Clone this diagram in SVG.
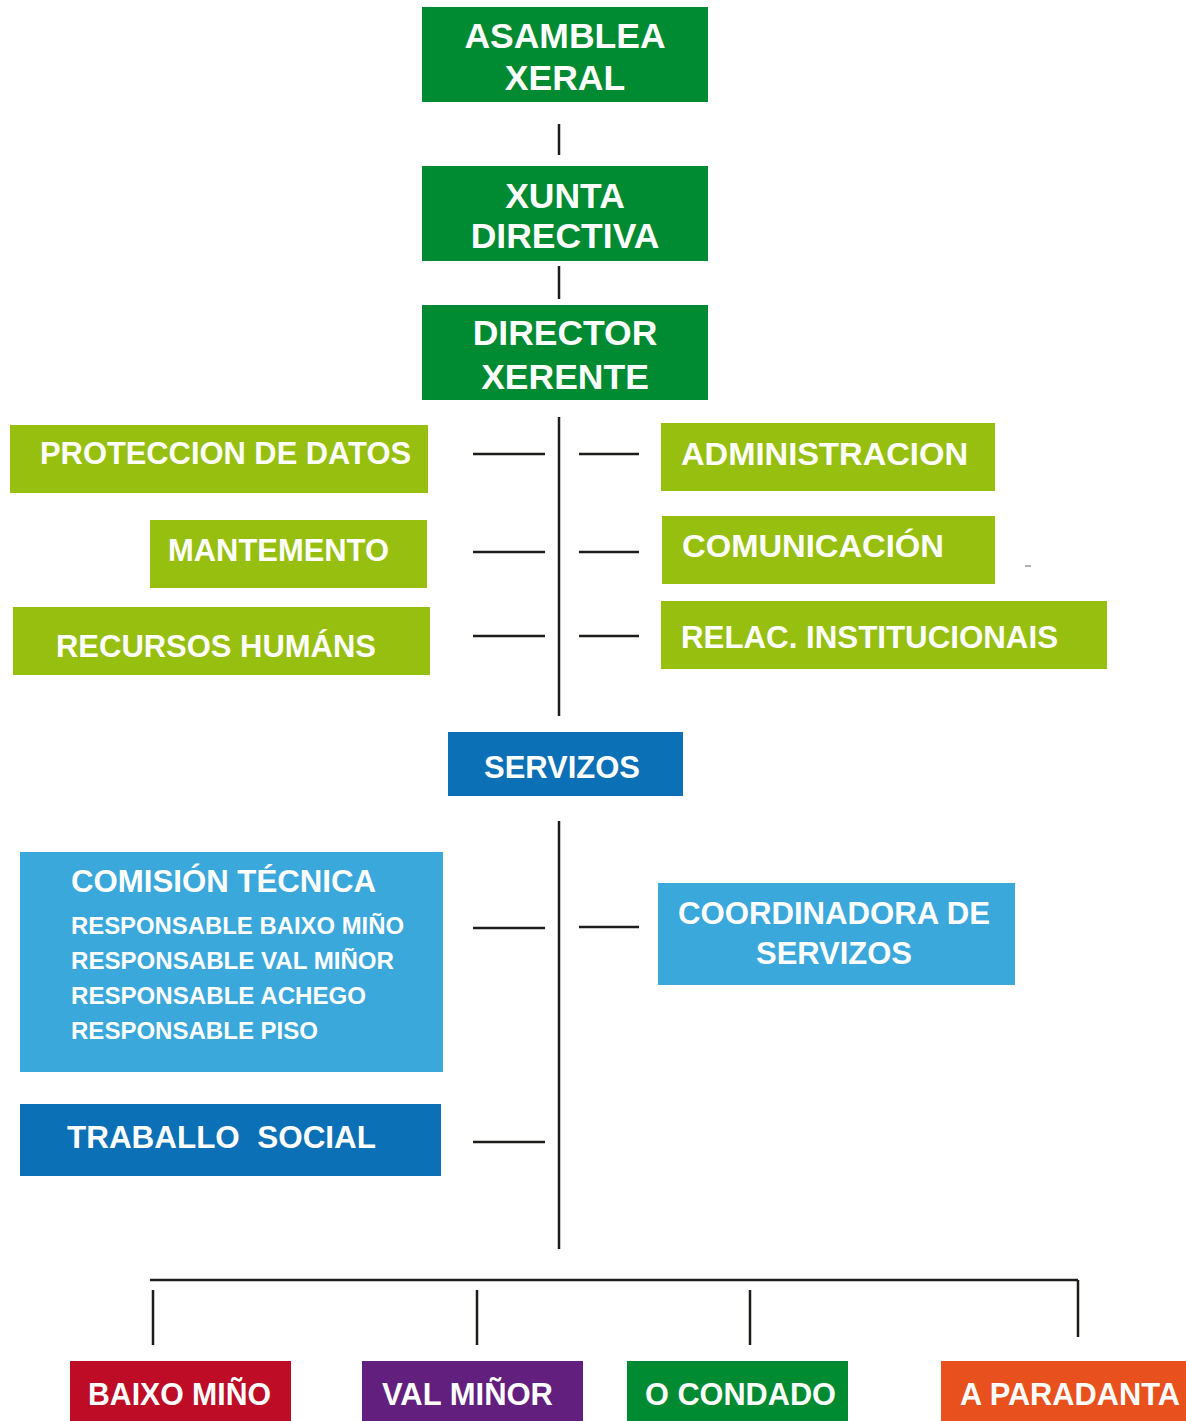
<svg xmlns="http://www.w3.org/2000/svg" width="1186" height="1421" viewBox="0 0 1186 1421">
<style>
text{font-family:"Liberation Sans",Arial,sans-serif;font-weight:bold;fill:#fff}
.t34{font-size:35.5px}
.t30{font-size:31px}
.t24{font-size:24px}
.dg{fill:#008A31}
.lg{fill:#97BF0F}
.db{fill:#0B70B5}
.lb{fill:#3BA8DB}
.ln{stroke:#1d1d1b;stroke-width:2.5;fill:none}
</style>
<rect width="1186" height="1421" fill="#fff"/>
<g id="connectors">
<path class="ln" d="M559 124V155M559 266V299M559 417V716M473 454H545M579 454H639M473 552H545M579 552H639M473 636H545M579 636H639M559 821V1249M473 928H545M579 927H639M473 1142H545M150 1280H1078M153 1290V1345M477 1290V1345M750 1290V1345M1078 1280V1337"/>
<path d="M1025 566H1031" stroke="#999" stroke-width="1.5"/>
</g>
<g id="asamblea"><rect class="dg" x="422" y="7" width="286" height="95"/><text class="t34" x="565" y="48" text-anchor="middle">ASAMBLEA</text><text class="t34" x="565" y="90" text-anchor="middle">XERAL</text></g>
<g id="xunta"><rect class="dg" x="422" y="166" width="286" height="95"/><text class="t34" x="565" y="208" text-anchor="middle">XUNTA</text><text class="t34" x="565" y="248" text-anchor="middle">DIRECTIVA</text></g>
<g id="director"><rect class="dg" x="422" y="305" width="286" height="95"/><text class="t34" x="565" y="345" text-anchor="middle">DIRECTOR</text><text class="t34" x="565" y="389" text-anchor="middle">XERENTE</text></g>
<g id="proteccion"><rect class="lg" x="10" y="425" width="418" height="68"/><text class="t30" x="40" y="464" textLength="371" lengthAdjust="spacingAndGlyphs">PROTECCION DE DATOS</text></g>
<g id="mantemento"><rect class="lg" x="150" y="520" width="277" height="68"/><text class="t30" x="168" y="561" textLength="221" lengthAdjust="spacingAndGlyphs">MANTEMENTO</text></g>
<g id="recursos"><rect class="lg" x="13" y="607" width="417" height="68"/><text class="t30" x="56" y="657" textLength="320" lengthAdjust="spacingAndGlyphs">RECURSOS HUMÁNS</text></g>
<g id="administracion"><rect class="lg" x="661" y="423" width="334" height="68"/><text class="t30" x="681" y="465" textLength="287" lengthAdjust="spacingAndGlyphs">ADMINISTRACION</text></g>
<g id="comunicacion"><rect class="lg" x="662" y="516" width="333" height="68"/><text class="t30" x="682" y="557" textLength="262" lengthAdjust="spacingAndGlyphs">COMUNICACIÓN</text></g>
<g id="relac"><rect class="lg" x="661" y="601" width="446" height="68"/><text class="t30" x="681" y="648" textLength="377" lengthAdjust="spacingAndGlyphs">RELAC. INSTITUCIONAIS</text></g>
<g id="servizos"><rect class="db" x="448" y="732" width="235" height="64"/><text class="t30" x="484" y="778" textLength="156" lengthAdjust="spacingAndGlyphs">SERVIZOS</text></g>
<g id="comision"><rect class="lb" x="20" y="852" width="423" height="220"/><text class="t30" x="71" y="892" textLength="305" lengthAdjust="spacingAndGlyphs">COMISIÓN TÉCNICA</text><text class="t24" x="71" y="934" textLength="333" lengthAdjust="spacingAndGlyphs">RESPONSABLE BAIXO MIÑO</text><text class="t24" x="71" y="969" textLength="323" lengthAdjust="spacingAndGlyphs">RESPONSABLE VAL MIÑOR</text><text class="t24" x="71" y="1004" textLength="295" lengthAdjust="spacingAndGlyphs">RESPONSABLE ACHEGO</text><text class="t24" x="71" y="1039" textLength="247" lengthAdjust="spacingAndGlyphs">RESPONSABLE PISO</text></g>
<g id="coordinadora"><rect class="lb" x="658" y="883" width="357" height="102"/><text class="t30" x="678" y="924" textLength="312" lengthAdjust="spacingAndGlyphs">COORDINADORA DE</text><text class="t30" x="756" y="964" textLength="156" lengthAdjust="spacingAndGlyphs">SERVIZOS</text></g>
<g id="traballo"><rect class="db" x="20" y="1104" width="421" height="72"/><text class="t30" x="67" y="1148" textLength="309" lengthAdjust="spacingAndGlyphs" xml:space="preserve">TRABALLO  SOCIAL</text></g>
<g id="baixo"><rect x="70" y="1361" width="221" height="60" fill="#BE0B26"/><text class="t30" x="88" y="1405" textLength="183" lengthAdjust="spacingAndGlyphs">BAIXO MIÑO</text></g>
<g id="val"><rect x="362" y="1361" width="221" height="60" fill="#621F7D"/><text class="t30" x="382" y="1405" textLength="171" lengthAdjust="spacingAndGlyphs">VAL MIÑOR</text></g>
<g id="condado"><rect x="627" y="1361" width="221" height="60" fill="#008A31"/><text class="t30" x="645" y="1405" textLength="191" lengthAdjust="spacingAndGlyphs">O CONDADO</text></g>
<g id="paradanta"><rect x="941" y="1361" width="245" height="60" fill="#E8511E"/><text class="t30" x="960" y="1405" textLength="220" lengthAdjust="spacingAndGlyphs">A PARADANTA</text></g>
</svg>
